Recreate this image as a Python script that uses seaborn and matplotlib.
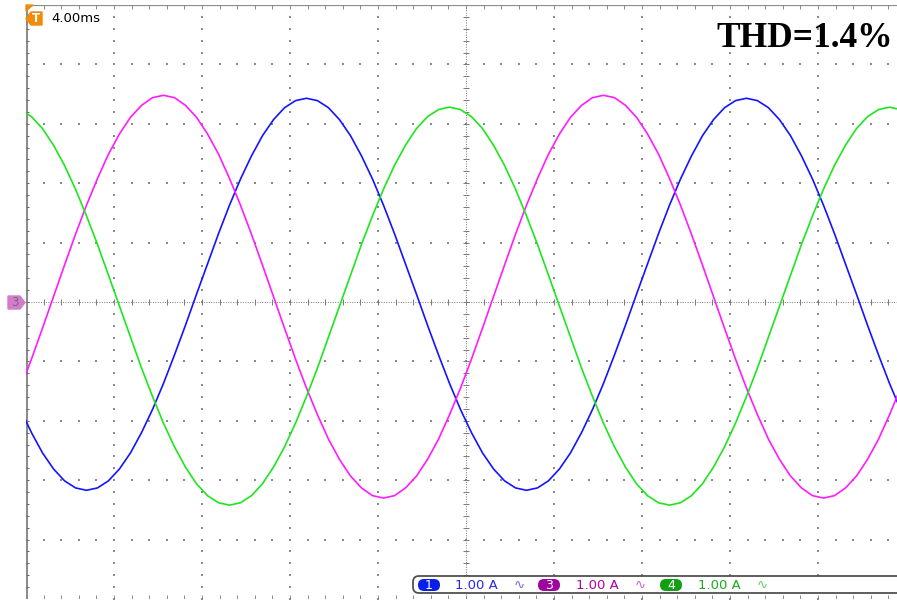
import numpy as np
import pandas as pd
import matplotlib
matplotlib.use("Agg")
import matplotlib.pyplot as plt
import seaborn as sns
from matplotlib.patches import FancyBboxPatch, Polygon

# ---------------- data (read from the scope screen) ----------------
# sample times in ms (0.5 ms spacing), current in A (1.00 A/div)
time_ms = np.arange(82) * 0.5 - 0.25

ch1_blue = [
    -1.81, -2.20, -2.54, -2.81, -3.01, -3.13, -3.17, -3.13, -3.01, -2.81, -2.54, -2.20, -1.81,
    -1.37, -0.89, -0.39, 0.13, 0.64, 1.15, 1.63, 2.07, 2.46, 2.80, 3.07, 3.27, 3.39,
    3.43, 3.39, 3.27, 3.07, 2.80, 2.46, 2.07, 1.63, 1.15, 0.64, 0.13, -0.39, -0.89, -1.37,
    -1.81, -2.20, -2.54, -2.81, -3.01, -3.13, -3.17, -3.13, -3.01, -2.81, -2.54, -2.20, -1.81,
    -1.37, -0.89, -0.39, 0.13, 0.64, 1.15, 1.63, 2.07, 2.46, 2.80, 3.07, 3.27, 3.39,
    3.43, 3.39, 3.27, 3.07, 2.80, 2.46, 2.07, 1.63, 1.15, 0.64, 0.13, -0.39, -0.89, -1.37,
    -1.81, -2.20,
]
ch3_magenta = [
    -1.45, -0.96, -0.44, 0.09, 0.62, 1.14, 1.63, 2.08, 2.49, 2.83, 3.11, 3.31, 3.44,
    3.48, 3.44, 3.31, 3.11, 2.83, 2.49, 2.08, 1.63, 1.14, 0.62, 0.09, -0.44, -0.96, -1.45,
    -1.90, -2.31, -2.65, -2.93, -3.13, -3.26, -3.30, -3.26, -3.13, -2.93, -2.65, -2.31, -1.90,
    -1.45, -0.96, -0.44, 0.09, 0.62, 1.14, 1.63, 2.08, 2.49, 2.83, 3.11, 3.31, 3.44,
    3.48, 3.44, 3.31, 3.11, 2.83, 2.49, 2.08, 1.63, 1.14, 0.62, 0.09, -0.44, -0.96, -1.45,
    -1.90, -2.31, -2.65, -2.93, -3.13, -3.26, -3.30, -3.26, -3.13, -2.93, -2.65, -2.31, -1.90,
    -1.45, -0.96,
]
ch4_green = [
    3.24, 3.12, 2.92, 2.64, 2.30, 1.90, 1.45, 0.97, 0.45, -0.07, -0.59, -1.11, -1.59,
    -2.04, -2.44, -2.78, -3.06, -3.26, -3.38, -3.42, -3.38, -3.26, -3.06, -2.78, -2.44, -2.04,
    -1.59, -1.11, -0.59, -0.07, 0.45, 0.97, 1.45, 1.90, 2.30, 2.64, 2.92, 3.12, 3.24,
    3.28, 3.24, 3.12, 2.92, 2.64, 2.30, 1.90, 1.45, 0.97, 0.45, -0.07, -0.59, -1.11, -1.59,
    -2.04, -2.44, -2.78, -3.06, -3.26, -3.38, -3.42, -3.38, -3.26, -3.06, -2.78, -2.44, -2.04,
    -1.59, -1.11, -0.59, -0.07, 0.45, 0.97, 1.45, 1.90, 2.30, 2.64, 2.92, 3.12, 3.24,
    3.28, 3.24, 3.12,
]

channels = ["1", "3", "4"]
channel_colors = {"1": "#1414ff", "3": "#ff1cff", "4": "#1ee61e"}
badge_colors = ["#0a1eea", "#a0049e", "#12a012"]
text_colors = ["#2828f0", "#b000b0", "#1eaa1e"]
wave_colors = ["#6a6aff", "#d060d0", "#60d060"]
scale_labels = ["1.00 A", "1.00 A", "1.00 A"]
timebase_label = "4.00ms"
thd_label = "THD=1.4%"

# ---------------- figure ----------------
sns.set_style("white")
W, H = 897, 600
fig = plt.figure(figsize=(W / 100, H / 100), dpi=100)
fig.patch.set_facecolor("white")

# scope graticule: 10 div x 4 ms, 10 div x 1 A ; right edge cropped by the screenshot
ax = fig.add_axes([26 / W, 1 / H, 880 / W, 594 / H])
ax.set_xlim(0, 40)
ax.set_ylim(-5, 5)
ax.set_axis_off()

grid_c = "#8a8a8a"
# dotted major lines
xs_minor = np.arange(0, 40.01, 0.8)
ys_minor = np.arange(-5, 5.001, 0.2)
for yv in [-4, -3, -2, -1, 1, 2, 3, 4]:
    ax.scatter(xs_minor, np.full_like(xs_minor, yv), s=0.8, marker="s", color=grid_c,
               linewidths=0, zorder=1)
for xv in [4, 8, 12, 16, 24, 28, 32, 36]:
    ax.scatter(np.full_like(ys_minor, xv), ys_minor, s=0.8, marker="s", color=grid_c,
               linewidths=0, zorder=1)
# center cross lines with ticks
ax.axhline(0, color="#7a7a7a", lw=0.7, ls=(0, (1, 1.5)), zorder=1)
ax.axvline(20, color="#7a7a7a", lw=0.7, ls=(0, (1, 1.5)), zorder=1)
ax.vlines(xs_minor, -0.05, 0.05, color="#7a7a7a", lw=0.7, zorder=1)
ax.hlines(ys_minor, 20 - 0.12, 20 + 0.12, color="#7a7a7a", lw=0.7, zorder=1)
# border ticks
ax.axhline(5, color="#8a8a8a", lw=1.6, zorder=1)
ax.vlines(xs_minor, 4.93, 5, color=grid_c, lw=0.7, zorder=1)
ax.vlines(xs_minor, -5, -4.93, color=grid_c, lw=0.7, zorder=1)
ax.axvline(0, color="#8c8c8c", lw=2.2, zorder=1)
ax.hlines(ys_minor, 0, 0.12, color="#6a6a6a", lw=0.7, zorder=1)

# traces
df = pd.DataFrame({
    "t": np.concatenate([time_ms, time_ms, time_ms]),
    "i": ch1_blue + ch3_magenta + ch4_green,
    "ch": ["1"] * len(ch1_blue) + ["3"] * len(ch3_magenta) + ["4"] * len(ch4_green),
})
sns.lineplot(data=df, x="t", y="i", hue="ch", palette=channel_colors, estimator=None,
             sort=False, lw=1.2, legend=False, ax=ax, zorder=3)
ax.set_xlim(0, 40)
ax.set_ylim(-5, 5)

# ---------------- pixel overlay for screen annotations ----------------
ov = fig.add_axes([0, 0, 1, 1], zorder=5)
ov.set_xlim(0, W)
ov.set_ylim(H, 0)
ov.set_axis_off()
ov.patch.set_alpha(0)

orange = "#f28a0c"
ov.add_patch(Polygon([(26, 5), (33, 5), (26, 11)], closed=True, color=orange))
ov.add_patch(Polygon([(26, 18.5), (31, 12), (42, 12), (42, 25), (31, 25)], closed=True,
                     color=orange))
ov.text(35.5, 18.8, "T", color="white", fontsize=8.5, fontweight="bold", ha="center",
        va="center")
ov.text(51, 18.5, timebase_label, color="black", fontsize=9.5, ha="left", va="center")

# channel 3 ground marker
ov.add_patch(Polygon([(8, 296), (20, 296), (25, 302.5), (20, 309), (8, 309)], closed=True,
                     color="#d47ccc"))
ov.text(14.5, 303, "3", color="#6e6e6e", fontsize=8.5, ha="center", va="center")

# THD label
ov.text(893, 47, thd_label, fontfamily="Liberation Serif", fontweight="bold",
        fontsize=25.5, color="black", ha="right", va="baseline")

# channel readout bar
ov.add_patch(FancyBboxPatch((413, 576), 520, 17, boxstyle="round,pad=0,rounding_size=6",
                            facecolor="white", edgecolor="#505050", lw=1.3))
badge_x = [418, 538, 660]
label_x = [455, 576, 698]
wave_x = [514, 635, 757]
for k, ch in enumerate(channels):
    ov.add_patch(FancyBboxPatch((badge_x[k], 579), 22, 12,
                                boxstyle="round,pad=0,rounding_size=6",
                                facecolor=badge_colors[k], edgecolor="none"))
    ov.text(badge_x[k] + 11, 585.5, ch, color="white", fontsize=9, ha="center",
            va="center")
    ov.text(label_x[k], 585.5, scale_labels[k], color=text_colors[k], fontsize=9.5,
            ha="left", va="center")
    ov.text(wave_x[k], 585, "\u223f", color=wave_colors[k], fontsize=9.5, ha="left",
            va="center")

fig.savefig("out.png", dpi=100)
